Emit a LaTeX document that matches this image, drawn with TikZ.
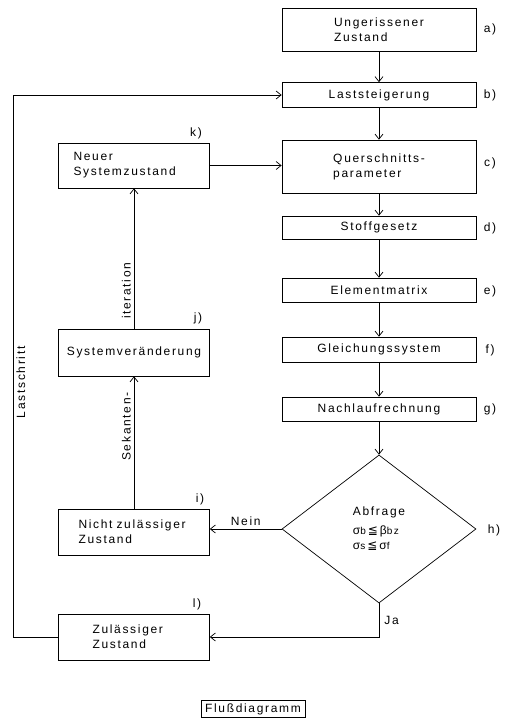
\documentclass[tikz,border=0pt]{standalone}
\usepackage{fontspec}
\setmainfont{Liberation Sans}[LetterSpace=14]
\newfontfamily\symfont{DejaVu Sans}
\usetikzlibrary{arrows.meta,shapes.geometric}
\newcommand\indt[1]{\hspace*{#1pt}}
\begin{document}
\begin{tikzpicture}[x=1pt,y=-1pt,line width=0.7pt,
  every node/.style={font=\fontsize{12}{15}\selectfont},
  box/.style={draw, inner sep=0pt, minimum width=194pt},
  lbox/.style={draw, inner sep=0pt, minimum width=151pt, text width=151pt, align=left},
  arr/.style={-{Straight Barb[length=5pt,width=8pt]}},
  tag/.style={inner sep=0pt}]
\useasboundingbox (0,0) rectangle (508,722);

% right column
\node[box, minimum height=43pt, align=left] (a) at (379,29.5) {Ungerissener\\Zustand};
\node[box, minimum height=25pt] (b) at (379,95) {Laststeigerung};
\node[box, minimum height=53pt, align=left] (c) at (379,166.5) {Querschnitts-\\parameter};
\node[box, minimum height=23pt] (d) at (379,227.5) {Stoffgesetz};
\node[box, minimum height=24pt] (e) at (379,290) {Elementmatrix};
\node[box, minimum height=25pt] (f) at (379,349.5) {Gleichungssystem};
\node[box, minimum height=24pt] (g) at (379,409) {Nachlaufrechnung};
\node[draw, diamond, minimum width=194pt, minimum height=148pt, inner sep=0pt, align=left] (h) at (379,529)
  {Abfrage\\[4pt]
   σ{\fontsize{10}{12}\selectfont b}\,{\symfont ≦}\,β{\fontsize{10}{12}\selectfont bz}\\
   σ{\fontsize{10}{12}\selectfont s}\,{\symfont ≦}\,σ{\fontsize{10}{12}\selectfont f}};

\node[tag] (ta) at (490,29) {a)};
\node[tag] (tb) at (490,95) {b)};
\node[tag] (tc) at (490,163) {c)};
\node[tag] (td) at (490,228) {d)};
\node[tag] (te) at (490,291) {e)};
\node[tag] (tf) at (490,350) {f)};
\node[tag] (tg) at (490,409) {g)};
\node[tag] (th) at (494,530) {h)};

% left column
\node[lbox, minimum height=45pt] (k) at (134,165.5) {\indt{15}Neuer\\\indt{15}Systemzustand};
\node[draw, inner sep=0pt, minimum width=151pt, minimum height=47pt] (j) at (134,352.5) {Systemveränderung};
\node[lbox, minimum height=46pt] (i) at (134,532) {\indt{20}Nicht zulässiger\\\indt{20}Zustand};
\node[lbox, minimum height=46pt] (l) at (134,637) {\indt{34}Zulässiger\\\indt{34}Zustand};

\node[tag] (tk) at (196,133) {k)};
\node[tag] (tj) at (198,318) {j)};
\node[tag] (ti) at (200,499) {i)};
\node[tag] (tl) at (197,604) {l)};

\node[draw, inner xsep=4pt, inner ysep=3pt] (fd) at (253,709) {Flußdiagramm};

\coordinate (lc) at (13,0);

% connectors
\draw[arr] (a) -- (b);
\draw[arr] (b) -- (c);
\draw[arr] (c) -- (d);
\draw[arr] (d) -- (e);
\draw[arr] (e) -- (f);
\draw[arr] (f) -- (g);
\draw[arr] (g) -- (h);
\draw[arr] (h.west) -- (h.west -| i.east) node[midway, above, inner sep=3pt] {Nein};
\draw[arr] (h.south) |- (l.east) node[pos=0.25, right, inner sep=5pt] {Ja};
\draw[arr] (i.north) -- (j.south) node[pos=0.62, anchor=south, rotate=90, inner sep=3pt] {Sekanten-};
\draw[arr] (j.north) -- (k.south) node[pos=0.27, anchor=south, rotate=90, inner sep=3pt] {iteration};
\draw[arr] (k.east) -- (k.east -| c.west);
\draw[arr] (l.west) -- (l.west -| lc) -- (lc |- b.west) node[pos=0.47, anchor=north, rotate=90, inner sep=3pt] {Lastschritt} -- (b.west);
\end{tikzpicture}
\end{document}
